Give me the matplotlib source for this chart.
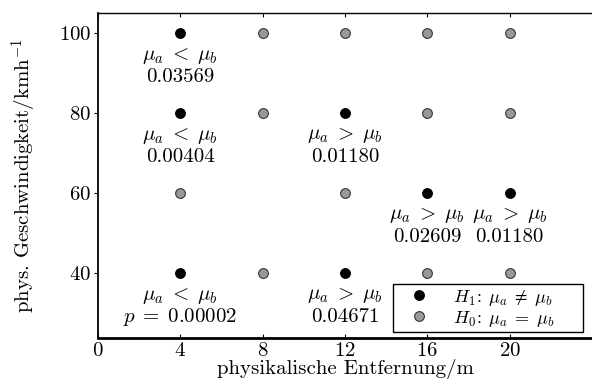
import matplotlib
matplotlib.use("Agg")
import matplotlib.pyplot as plt
from matplotlib.patches import Rectangle

plt.rcParams['font.family'] = ['cmr10', 'DejaVu Serif']
plt.rcParams['mathtext.fontset'] = 'cm'
plt.rcParams['axes.unicode_minus'] = False
plt.rcParams['axes.formatter.use_mathtext'] = True

# Data
h1_x = [4, 4, 12, 16, 20, 4, 12]
h1_y = [100, 80, 80, 60, 60, 40, 40]
h1_rel = [r'$\mu_a \;<\; \mu_b$', r'$\mu_a \;<\; \mu_b$', r'$\mu_a \;>\; \mu_b$', r'$\mu_a \;>\; \mu_b$',
          r'$\mu_a \;>\; \mu_b$', r'$\mu_a \;<\; \mu_b$', r'$\mu_a \;>\; \mu_b$']
h1_p = ['0.03569', '0.00404', '0.01180', '0.02609', '0.01180', r'$p\;=\;$0.00002', '0.04671']
h0_x = [8, 12, 16, 20, 8, 16, 20, 4, 12, 8, 16, 20]
h0_y = [100, 100, 100, 100, 80, 80, 80, 60, 60, 40, 40, 40]
x_ticks = [0, 4, 8, 12, 16, 20]
y_ticks = [40, 60, 80, 100]

fig = plt.figure(figsize=(5.92, 3.81), dpi=100)
ax = fig.add_axes([98/592, 43/381, 1 - 98/592, 325/381])

ax.plot(h1_x, h1_y, 'o', color='black', markeredgecolor='black', markersize=7,
        markeredgewidth=0.8, label=r'$H_1\!:\; \mu_a \;\neq\; \mu_b$', zorder=3)
ax.plot(h0_x, h0_y, 'o', color='#999999', markeredgecolor='#333333', markersize=7,
        markeredgewidth=0.8, label=r'$H_0\!:\; \mu_a \;=\; \mu_b$', zorder=3)

fs = 15
for x, y, r, p in zip(h1_x, h1_y, h1_rel, h1_p):
    ax.annotate(r, (x, y), xytext=(0, -16.5), textcoords='offset points',
                ha='center', va='center', fontsize=fs)
    ax.annotate(p, (x, y), xytext=(0, -31.5), textcoords='offset points',
                ha='center', va='center', fontsize=fs)

ax.set_xlim(0, 24)
ax.set_ylim(23.75, 105)
ax.set_xticks(x_ticks)
ax.set_yticks(y_ticks)
ax.tick_params(axis='x', direction='in', top=True, length=3, labelsize=fs, pad=3)
ax.tick_params(axis='y', direction='out', right=True, length=3, labelsize=fs, pad=2)

ax.spines['right'].set_visible(False)
ax.spines['bottom'].set_linewidth(2)
ax.spines['left'].set_linewidth(1.3)
ax.spines['top'].set_linewidth(1)

ax.set_xlabel('physikalische Entfernung/m', fontsize=fs, labelpad=-1)
ax.set_ylabel(r'phys. Geschwindigkeit/kmh$^{-1}$', fontsize=fs, labelpad=14)

# legend box (frame drawn separately to match width)
bx0, bx1, by0, by1 = 0.597, 0.982, 0.018, 0.166
ax.add_patch(Rectangle((bx0, by0), bx1 - bx0, by1 - by0, transform=ax.transAxes,
                       facecolor='white', edgecolor='black', linewidth=1, zorder=4))
leg = ax.legend(loc='center left', bbox_to_anchor=(bx0, (by0 + by1) / 2), borderaxespad=0,
                frameon=False, fontsize=13,
                handletextpad=0.7, borderpad=0.25, labelspacing=0.05, handlelength=2.4)
leg.set_zorder(5)

fig.savefig('out.png', dpi=100)
